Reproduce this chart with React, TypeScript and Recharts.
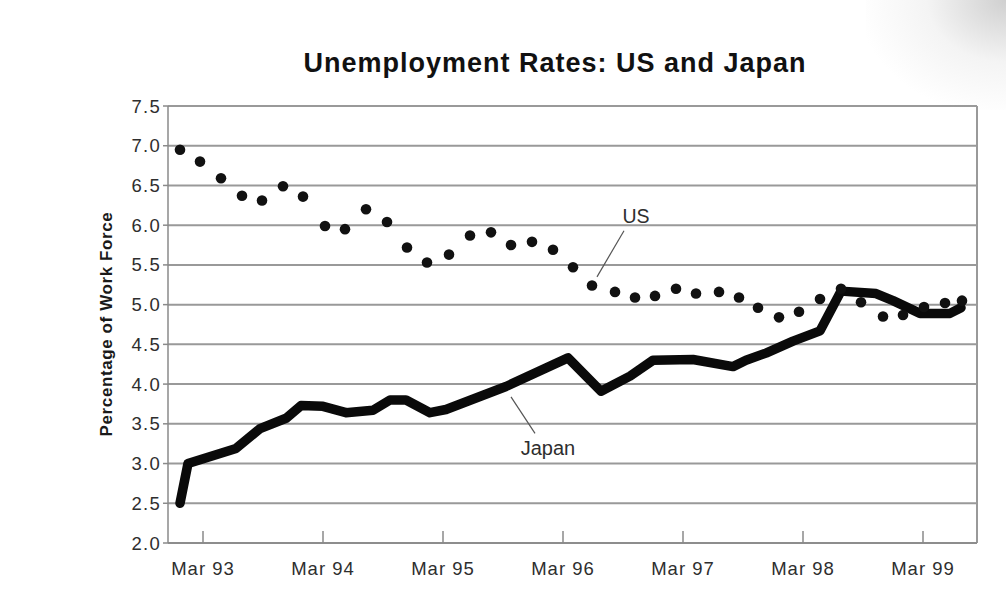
import {
  CartesianGrid,
  ComposedChart,
  Line,
  ReferenceDot,
  ReferenceLine,
  Scatter,
  XAxis,
  YAxis,
} from "recharts"

// x values are months counted from Jan 1993
const US_MONTHS = [
  -0.3, 1.7, 3.8, 5.9, 7.9, 10.0, 12.0, 14.2, 16.2, 18.3, 20.4, 22.4, 24.4,
  26.6, 28.7, 30.8, 32.8, 34.9, 37.0, 39.0, 40.9, 43.2, 45.2, 47.2, 49.3, 51.3,
  53.6, 55.6, 57.5, 59.6, 61.6, 63.7, 65.8, 67.8, 70.0, 72.0, 74.1, 76.2, 77.9,
]
const US_RATES = [
  6.95, 6.8, 6.59, 6.37, 6.31, 6.49, 6.36, 5.99, 5.95, 6.2, 6.04, 5.72, 5.53,
  5.63, 5.87, 5.91, 5.75, 5.79, 5.69, 5.47, 5.24, 5.16, 5.09, 5.11, 5.2, 5.14,
  5.16, 5.09, 4.96, 4.84, 4.91, 5.07, 5.2, 5.03, 4.85, 4.87, 4.97, 5.02, 5.05,
]

const JAPAN_MONTHS = [
  -0.3, 0.5, 5.3, 7.7, 10.3, 11.8, 14.0, 16.3, 19.0, 20.7, 22.3, 24.7, 26.3,
  32.3, 38.5, 41.8, 44.7, 47.0, 51.0, 55.0, 56.3, 58.3, 61.0, 63.7, 65.8, 69.3,
  71.0, 73.7, 76.7, 77.8,
]
const JAPAN_RATES = [
  2.5, 3.0, 3.19, 3.44, 3.57, 3.73, 3.72, 3.64, 3.67, 3.8, 3.8, 3.64, 3.68,
  3.97, 4.33, 3.91, 4.1, 4.3, 4.31, 4.22, 4.3, 4.39, 4.54, 4.67, 5.17, 5.14,
  5.05, 4.89, 4.89, 4.96,
]

const X_TICKS = [2, 14, 26, 38, 50, 62, 74]
const X_TICK_LABELS = ["Mar 93", "Mar 94", "Mar 95", "Mar 96", "Mar 97", "Mar 98", "Mar 99"]
const Y_TICKS = [2.0, 2.5, 3.0, 3.5, 4.0, 4.5, 5.0, 5.5, 6.0, 6.5, 7.0, 7.5]

const X_DOMAIN: [number, number] = [-1.5, 79.4]

const usData = US_MONTHS.map((month, i) => ({ month, rate: US_RATES[i] }))
const japanData = JAPAN_MONTHS.map((month, i) => ({ month, rate: JAPAN_RATES[i] }))

const AXIS_GRAY = "#8a8a8a"
const TEXT_GRAY = "#2e2e2e"

function MonthTick({ x, y, payload }: any) {
  const label = X_TICK_LABELS[X_TICKS.indexOf(payload.value)]
  return (
    <g>
      <line x1={x} y1={y} x2={x} y2={y - 12} stroke={AXIS_GRAY} strokeWidth={1.5} />
      <text
        x={x}
        y={y + 32}
        textAnchor="middle"
        fill={TEXT_GRAY}
        fontSize={18.5}
        letterSpacing={1}
      >
        {label}
      </text>
    </g>
  )
}

function RateTick({ x, y, payload }: any) {
  return (
    <text x={x} y={y} dy={6.5} textAnchor="end" fill={TEXT_GRAY} fontSize={18.5} letterSpacing={1.3}>
      {Number(payload.value).toFixed(1)}
    </text>
  )
}

function UsDot({ cx, cy }: any) {
  return <circle cx={cx} cy={cy} r={5.3} fill="#111" />
}

export default function App() {
  return (
    <div
      style={{
        position: "absolute",
        left: 0,
        top: 0,
        width: 1006,
        height: 595,
        background: "#fff",
        fontFamily: "'Liberation Sans', Arial, sans-serif",
        overflow: "hidden",
      }}
    >
      <div
        style={{
          position: "absolute",
          left: 555,
          top: 50,
          transform: "translateX(-50%)",
          whiteSpace: "nowrap",
          fontSize: 27,
          lineHeight: "27px",
          fontWeight: 700,
          letterSpacing: 1,
          color: "#111",
        }}
      >
        Unemployment Rates: US and Japan
      </div>

      <div
        style={{
          position: "absolute",
          left: 106,
          top: 324,
          transform: "translate(-50%, -50%) rotate(-90deg)",
          whiteSpace: "nowrap",
          fontSize: 17,
          lineHeight: "17px",
          fontWeight: 700,
          letterSpacing: 0.6,
          color: "#1a1a1a",
        }}
      >
        Percentage of Work Force
      </div>

      <div style={{ position: "absolute", left: 0, top: 0 }}>
        <ComposedChart
          width={1006}
          height={595}
          margin={{ top: 106, right: 29, bottom: 12, left: 108 }}
        >
          <CartesianGrid vertical={false} stroke="#999" strokeWidth={2} />
          <XAxis
            type="number"
            dataKey="month"
            domain={X_DOMAIN}
            allowDataOverflow
            ticks={X_TICKS}
            tickSize={0}
            tickMargin={0}
            tickLine={false}
            tick={<MonthTick />}
            height={40}
            stroke={AXIS_GRAY}
            strokeWidth={1.5}
          />
          <YAxis
            type="number"
            dataKey="rate"
            domain={[2, 7.5]}
            ticks={Y_TICKS}
            interval={0}
            tickSize={5}
            tickMargin={2}
            tick={<RateTick />}
            width={60}
            stroke={AXIS_GRAY}
            strokeWidth={1.5}
          />
          <ReferenceLine x={X_DOMAIN[1]} stroke="#999" strokeWidth={2} />

          <Line
            data={japanData}
            dataKey="rate"
            type="linear"
            stroke="#0a0a0a"
            strokeWidth={9.5}
            strokeLinejoin="round"
            strokeLinecap="round"
            dot={false}
            activeDot={false}
            isAnimationActive={false}
          />
          <Scatter data={usData} dataKey="rate" shape={<UsDot />} isAnimationActive={false} />

          <ReferenceLine
            segment={[
              { x: 44.1, y: 5.93 },
              { x: 41.4, y: 5.35 },
            ]}
            stroke="#555"
            strokeWidth={1.2}
          />
          <ReferenceLine
            segment={[
              { x: 32.8, y: 3.84 },
              { x: 35.2, y: 3.38 },
            ]}
            stroke="#555"
            strokeWidth={1.2}
          />
          <ReferenceDot
            x={45.3}
            y={6.12}
            r={0}
            fill="none"
            stroke="none"
            label={{ value: "US", position: "center", fill: TEXT_GRAY, fontSize: 19.5 }}
          />
          <ReferenceDot
            x={36.5}
            y={3.2}
            r={0}
            fill="none"
            stroke="none"
            label={{ value: "Japan", position: "center", fill: TEXT_GRAY, fontSize: 20 }}
          />
        </ComposedChart>
      </div>

      {/* soft grey shading in the top right corner */}
      <div
        style={{
          position: "absolute",
          right: 0,
          top: 0,
          width: 140,
          height: 110,
          pointerEvents: "none",
          background:
            "radial-gradient(ellipse at 100% 0%, rgba(150,150,150,0.45) 0%, rgba(200,200,200,0.2) 40%, rgba(255,255,255,0) 75%)",
        }}
      />
    </div>
  )
}
